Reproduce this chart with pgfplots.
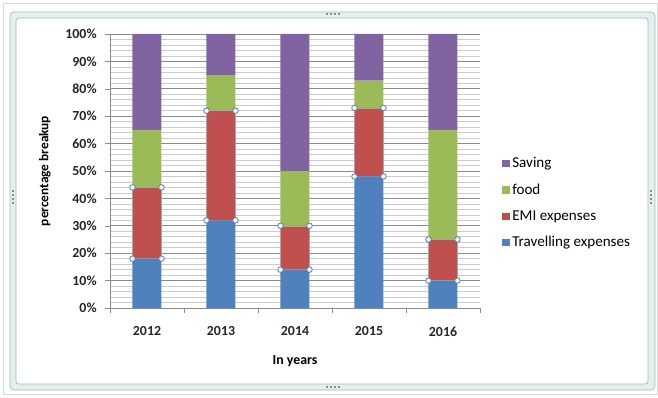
\documentclass[border=0pt]{standalone}
\usepackage{pgfplots}
\pgfplotsset{compat=1.18}
\usepackage{fontspec}
\setmainfont{Carlito}
\definecolor{cTrav}{HTML}{4F81BD}
\definecolor{cEmi}{HTML}{C0504D}
\definecolor{cFood}{HTML}{9BBB59}
\definecolor{cSave}{HTML}{8064A2}
\definecolor{band}{HTML}{E2F0F0}
\definecolor{bandline}{HTML}{A9B8B8}
\pgfplotsset{legsq/.style={legend image code/.code={\fill[##1,draw=none] (0pt,-2.6pt) rectangle (5.4pt,2.8pt);}}}
\begin{document}
\begin{tikzpicture}
\begin{scope}[x=0.75pt,y=0.75pt]
\useasboundingbox (0,0) rectangle (658,397);
\draw[black!15, line width=0.6pt] (3,3) rectangle (657,394);
\fill[band, rounded corners=3pt, even odd rule] (10,7) rectangle (655,385) (16,13) rectangle (648,379);
\draw[bandline, line width=0.5pt, rounded corners=3pt] (10,7) rectangle (655,385);
\draw[bandline, line width=0.5pt, rounded corners=2pt] (16,13) rectangle (648,379);
\foreach \xx in {326,330,334,338} {\fill[black!45] (\xx,382) rectangle +(2,2); \fill[black!45] (\xx,9) rectangle +(2,2);}
\foreach \yy in {193,197,201,205} {\fill[black!45] (12,\yy) rectangle +(2,2); \fill[black!45] (650,\yy) rectangle +(2,2);}
\end{scope}
\begin{axis}[
  at={(82.5pt,66.75pt)}, anchor=south west, scale only axis,
  width=277.5pt, height=205.5pt,
  ybar stacked, bar width=21.75pt,
  xmin=-0.5, xmax=4.5, ymin=0, ymax=100,
  xtick={0,1,2,3,4}, xticklabels={2012,2013,2014,2015,2016},
  minor xtick={-0.5,0.5,1.5,2.5,3.5,4.5},
  ytick={0,10,...,100}, minor ytick={0,2,...,100},
  yticklabel={\pgfmathprintnumber{\tick}\%},
  /pgf/number format/assume math mode=true,
  axis lines*=left,
  axis line style={draw=black!45},
  tick align=outside,
  major tick length=3.5pt, minor tick length=3.5pt,
  major x tick style={draw=none},
  minor x tick style={draw=black!45},
  major y tick style={draw=black!45},
  minor y tick style={draw=none},
  ymajorgrids, yminorgrids,
  major grid style={draw=black!45, line width=0.5pt},
  minor grid style={draw=black!20, line width=0.5pt},
  ticklabel style={font=\bfseries\fontsize{10.4}{12}\selectfont, text=black!85},
  xticklabel style={yshift=-7pt},
  yticklabel style={xshift=-3pt},
  xlabel={In years}, ylabel={percentage breakup},
  xlabel style={font=\bfseries\fontsize{10.4}{12}\selectfont, at={(axis description cs:0.5,-0.195)}, anchor=center},
  ylabel style={font=\bfseries\fontsize{10}{12}\selectfont, at={(axis description cs:-0.176,0.5)}, anchor=center},
  legend style={at={(1.06,0.56)}, anchor=north west, draw=none, fill=none,
    font=\fontsize{11.3}{13}\selectfont, row sep=6.6pt, inner sep=0pt,
    nodes={inner sep=2pt}},
  legend cell align=left,
  reverse legend,
]
\addplot[fill=cTrav, draw=none, legsq] coordinates {(0,18) (1,32) (2,14) (3,48) (4,10)};
\addlegendentry{Travelling expenses}
\addplot[fill=cEmi, draw=black!35, line width=0.4pt, legsq] coordinates {(0,26) (1,40) (2,16) (3,25) (4,15)};
\addlegendentry{EMI expenses}
\addplot[fill=cFood, draw=none, legsq] coordinates {(0,21) (1,13) (2,20) (3,10) (4,40)};
\addlegendentry{food}
\addplot[fill=cSave, draw=none, legsq] coordinates {(0,35) (1,15) (2,50) (3,17) (4,35)};
\addlegendentry{Saving}
\end{axis}
\begin{axis}[
  at={(82.5pt,66.75pt)}, anchor=south west, scale only axis,
  width=277.5pt, height=205.5pt,
  xmin=-0.5, xmax=4.5, ymin=0, ymax=100,
  hide axis, clip=false,
]
\addplot[only marks, mark=*, mark size=2.1pt, mark options={fill=cyan!10!white, draw=cTrav!50!gray, line width=0.6pt}]
coordinates {
(-0.196,18) (0.196,18) (-0.196,44) (0.196,44)
(0.804,32) (1.196,32) (0.804,72) (1.196,72)
(1.804,14) (2.196,14) (1.804,30) (2.196,30)
(2.804,48) (3.196,48) (2.804,73) (3.196,73)
(3.804,10) (4.196,10) (3.804,25) (4.196,25)
};
\end{axis}
\end{tikzpicture}
\end{document}
